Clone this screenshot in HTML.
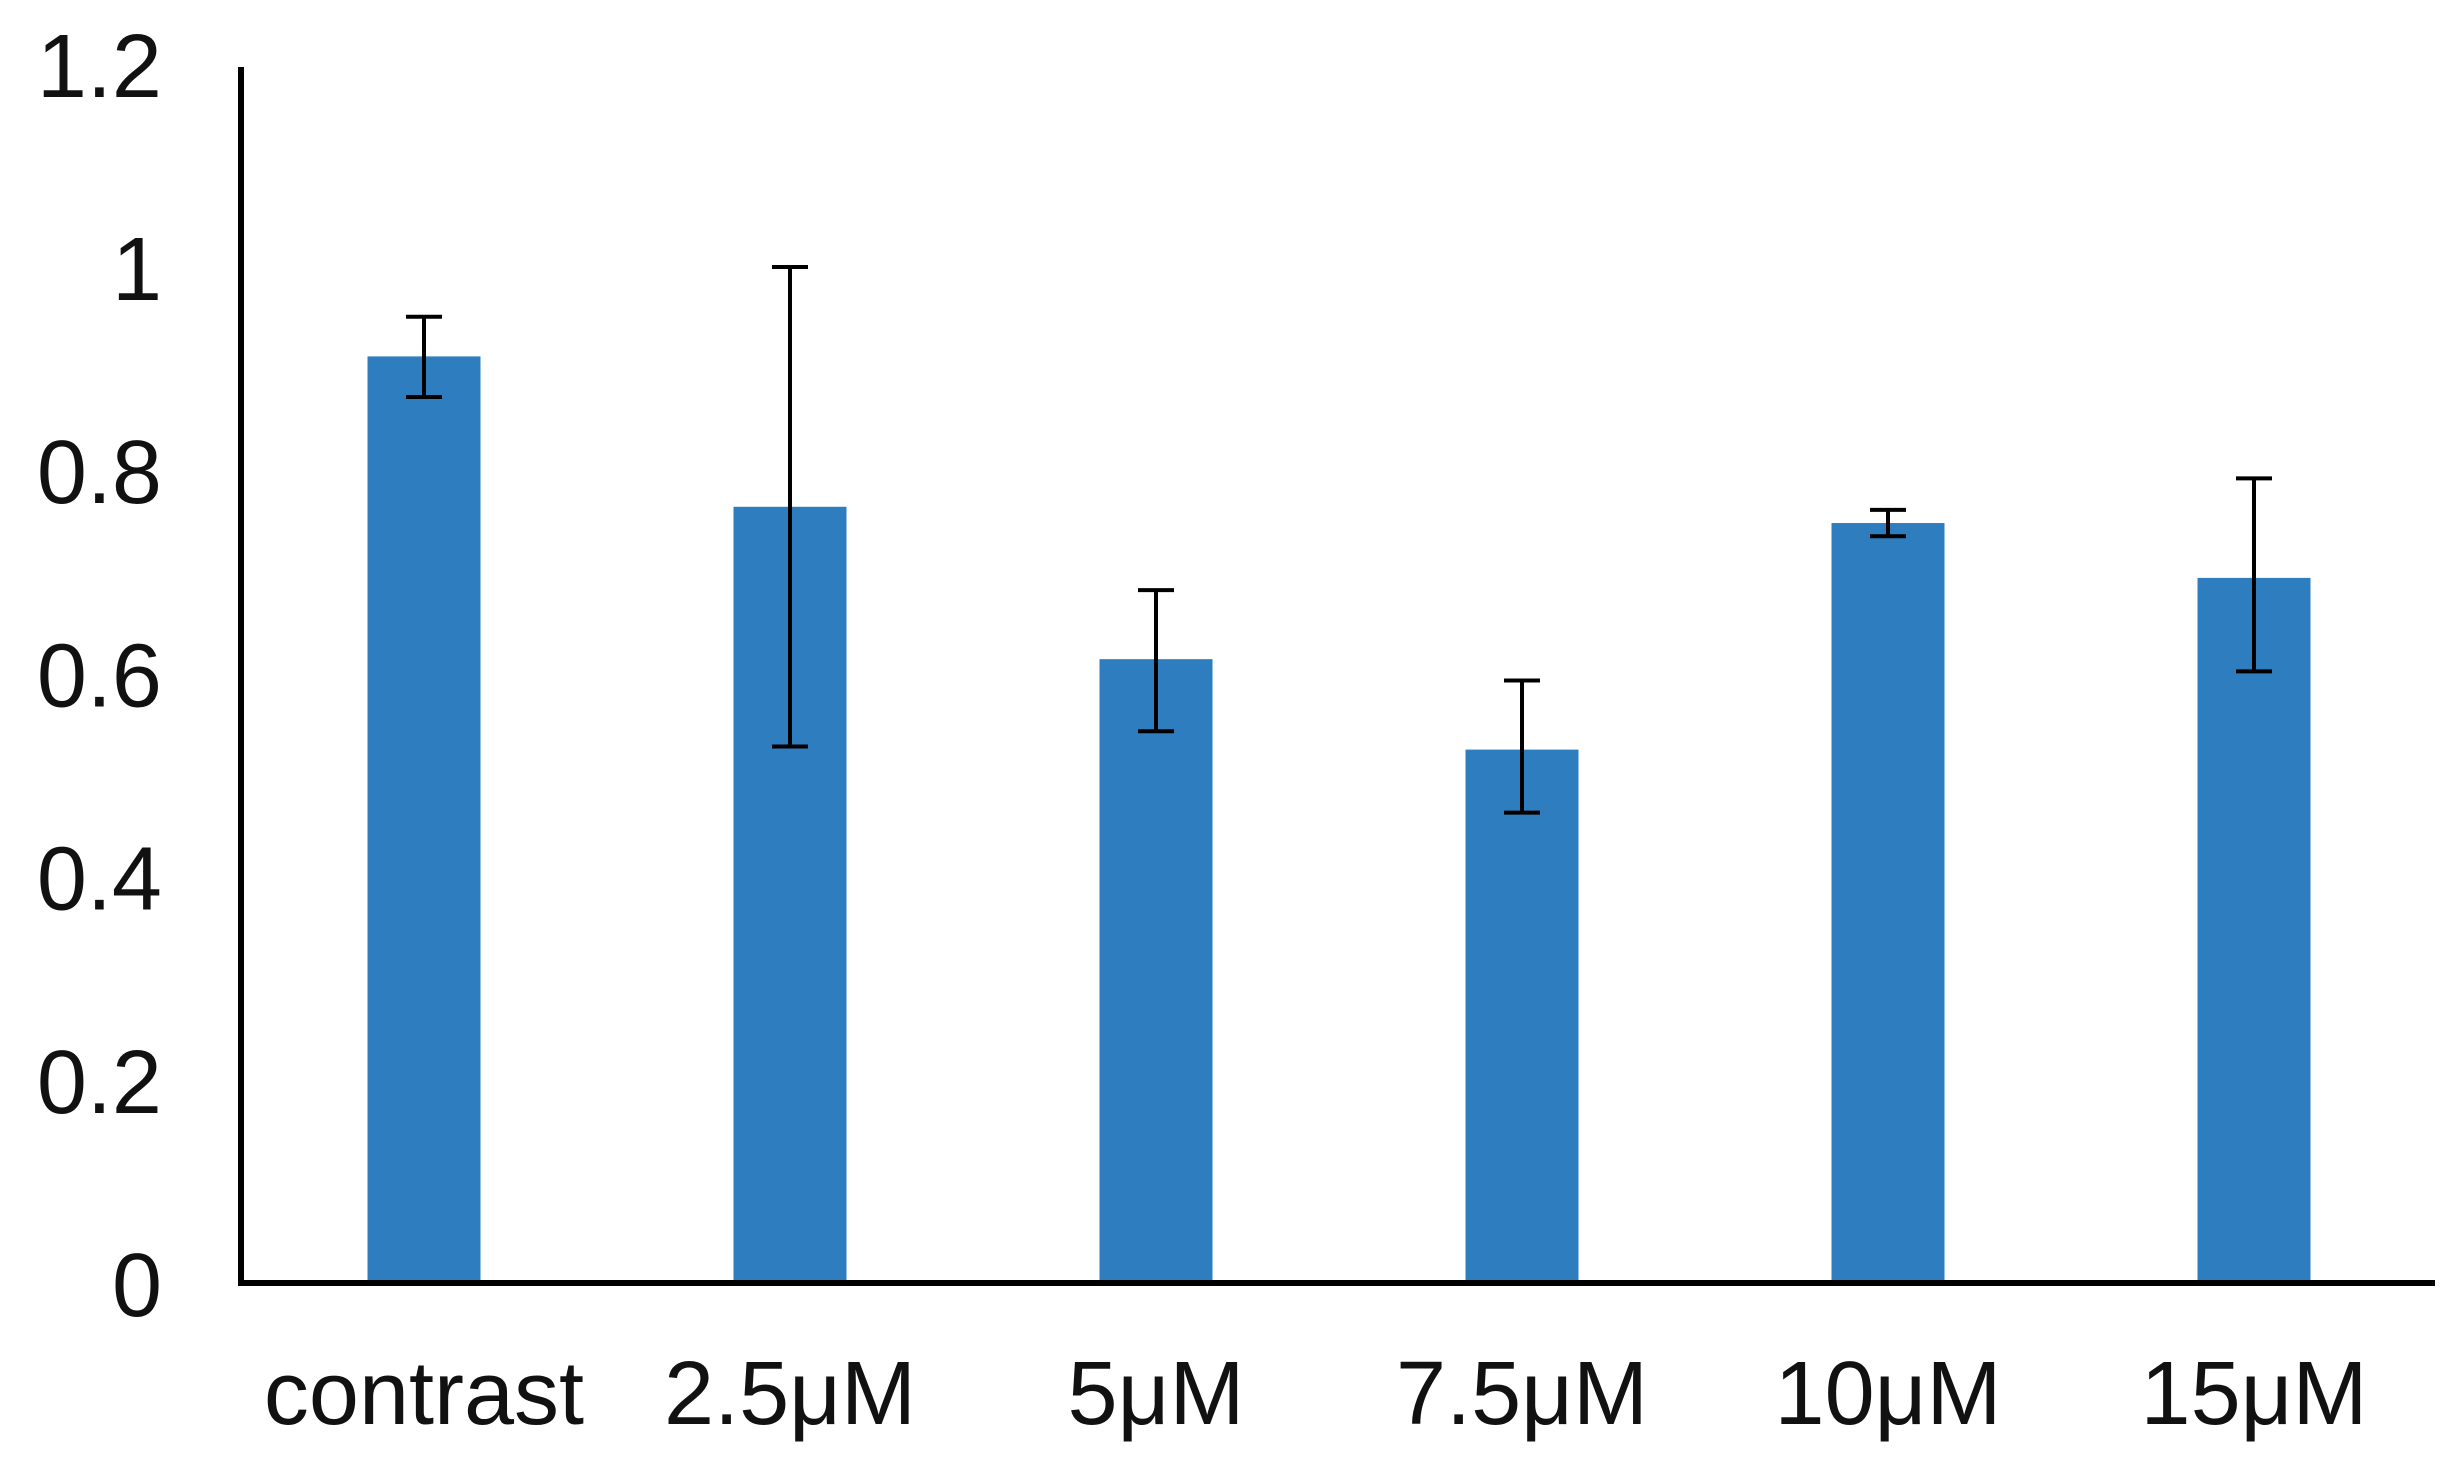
<!DOCTYPE html>
<html><head><meta charset="utf-8"><style>
html,body{margin:0;padding:0;background:#fff;}
svg{display:block;}
text{font-family:"Liberation Sans",sans-serif;fill:#111;}
</style></head><body>
<svg id="chart" width="2460" height="1481" viewBox="0 0 2460 1481" xmlns="http://www.w3.org/2000/svg"></svg>
<script>
const categories = ["contrast","2.5μM","5μM","7.5μM","10μM","15μM"];
const values = [0.912,0.764,0.614,0.525,0.748,0.694];
const errLow = [0.872,0.528,0.543,0.463,0.735,0.602];
const errHigh = [0.951,1.0,0.682,0.593,0.761,0.792];
const yTicks = [0,0.2,0.4,0.6,0.8,1,1.2];
const yTickLabels = ["0","0.2","0.4","0.6","0.8","1","1.2"];

const NS="http://www.w3.org/2000/svg";
const svg=document.getElementById('chart');
const base=1283, unit=1016;
const y=v=>base-v*unit;
const x=i=>424+i*366;
const bw=113, cap=36;
function mk(tag,attrs){const e=document.createElementNS(NS,tag);for(const k in attrs)e.setAttribute(k,attrs[k]);svg.appendChild(e);return e;}

categories.forEach((c,i)=>{
  const r=mk('rect',{x:x(i)-bw/2,y:y(values[i]),width:bw,height:base-y(values[i]),fill:'#2e7dbf'});
  
  
  const g=mk('path',{d:`M${x(i)},${y(errLow[i])}V${y(errHigh[i])}M${x(i)-cap/2},${y(errLow[i])}h${cap}M${x(i)-cap/2},${y(errHigh[i])}h${cap}`,stroke:'#000','stroke-width':4,fill:'none'});
  
  
  const t=mk('text',{x:x(i),y:1424,'font-size':90,'text-anchor':'middle'});
  t.textContent=c;
  
  
});
yTicks.forEach((v,i)=>{
  const t=mk('text',{x:162,y:y(v)+33,'font-size':90,'text-anchor':'end'});
  t.textContent=yTickLabels[i];
  
  
});
const ya=mk('line',{x1:241,y1:67,x2:241,y2:base+3,stroke:'#000','stroke-width':6});


const xa=mk('line',{x1:238,y1:base,x2:2435,y2:base,stroke:'#000','stroke-width':6});


</script>
</body></html>
